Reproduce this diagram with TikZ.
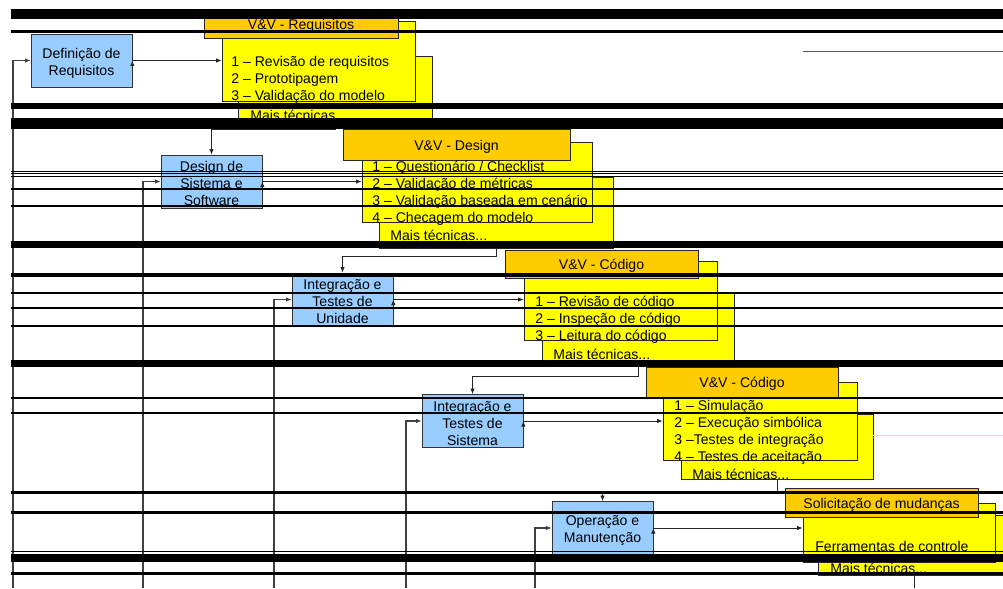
\documentclass[tikz,border=0pt]{standalone}
\usepackage{fontspec}
\setmainfont{Liberation Sans}
\usetikzlibrary{arrows.meta,positioning,calc}

\definecolor{azul}{HTML}{99CCFF}
\definecolor{laranja}{HTML}{FFCC00}
\definecolor{amarelo}{HTML}{FFFF00}
\definecolor{cinza}{HTML}{404040}

\newcommand{\esp}{\rule{0pt}{8.6pt}}

\tikzset{
  fase/.style={shape=rectangle,draw=black!80,fill=azul,inner sep=0pt,
    minimum width=2.02cm,minimum height=1.06cm,align=center},
  fundo/.style={shape=rectangle,draw=black!85,fill=amarelo,inner sep=0pt},
  frente/.style={shape=rectangle,draw=black!85,fill=amarelo,inner sep=0pt},
  cab/.style={shape=rectangle,draw=black!85,fill=laranja,inner sep=0pt,
    execute at begin node={\rule{0pt}{8.2pt}}},
  lista/.style={anchor=west,inner sep=0pt,align=left},
  seta/.style={draw=black!85,line width=0.55pt,-{Latex[length=1.1mm,width=0.9mm]}},
  volta/.style={draw=cinza,line width=0.6pt,-{Latex[length=1.1mm,width=0.9mm]}}
}

\begin{document}
\begin{tikzpicture}[x=0.02cm,y=-0.02cm,
  every node/.style={font=\fontsize{8}{9.68}\selectfont}]
  \useasboundingbox (0,0) rectangle (1003,588);

  % fases
  \node[fase] (req) at (81.5,60.5) {\esp Definição de\\Requisitos};
  \node[fase] (dsgn) at (211.5,181.5) {\esp Design de\\Sistema e\\Software};
  \node[fase] (unit) at (342.5,299.5) {\esp Integração e\\Testes de\\Unidade};
  \node[fase] (sys) at (472.5,421) {\esp Integração e\\Testes de\\Sistema};
  \node[fase] (oper) at (602.5,528) {\esp Operação e\\Manutenção};

  % V&V - Requisitos
  \node[fundo,minimum width=3.88cm,minimum height=1.42cm] (bk1) at (335,92) {};
  \node[frente,minimum width=3.86cm,minimum height=1.6cm] (fr1) at (318.5,61) {};
  \node[cab,minimum width=3.88cm,minimum height=0.56cm] (hd1) at (301,24) {V\&V - Requisitos};
  \node[lista] (ls1) at (231,80) {1 – Revisão de requisitos\\2 – Prototipagem\\3 – Validação do modelo};
  \node[lista] (mt1) at (250,115) {Mais técnicas...};

  % V&V - Design
  \node[fundo,minimum width=4.68cm,minimum height=1.42cm] (bk2) at (496,212.5) {};
  \node[frente,minimum width=4.6cm,minimum height=1.6cm] (fr2) at (477,182) {};
  \node[cab,minimum width=4.54cm,minimum height=0.62cm] (hd2) at (456.5,144.5) {V\&V - Design};
  \node[lista] (ls2) at (372,193) {1 – Questionário / Checklist\\2 – Validação de métricas\\3 – Validação baseada em cenário\\4 – Checagem do modelo};
  \node[lista] (mt2) at (390,235) {Mais técnicas...};

  % V&V - Codigo
  \node[fundo,minimum width=3.84cm,minimum height=1.38cm] (bk3) at (638,327.5) {};
  \node[frente,minimum width=3.86cm,minimum height=1.58cm] (fr3) at (620.5,300.5) {};
  \node[cab,minimum width=3.86cm,minimum height=0.56cm] (hd3) at (601.5,264) {V\&V - Código};
  \node[lista] (ls3) at (535,320) {1 – Revisão de código\\2 – Inspeção de código\\3 – Leitura do código};
  \node[lista] (mt3) at (553,354) {Mais técnicas...};

  % V&V - Codigo (sistema)
  \node[fundo,minimum width=3.84cm,minimum height=1.3cm] (bk4) at (777,446.5) {};
  \node[frente,minimum width=3.88cm,minimum height=1.56cm] (fr4) at (760,421) {};
  \node[cab,minimum width=3.84cm,minimum height=0.6cm] (hd4) at (742,382) {V\&V - Código};
  \node[lista] (ls4) at (674,432) {1 – Simulação\\2 – Execução simbólica\\3 –Testes de integração\\4 – Testes de aceitação};
  \node[lista] (mt4) at (692,474) {Mais técnicas...};

  % Solicitacao de mudancas
  \node[fundo,minimum width=3.84cm,minimum height=1.2cm] (bk5) at (914,545) {};
  \node[frente,minimum width=3.84cm,minimum height=1.18cm] (fr5) at (899,532.5) {};
  \node[cab,minimum width=3.86cm,minimum height=0.58cm] (hd5) at (881.5,502.5) {Solicitação de mudanças};
  \node[lista] (ls5) at (815,546) {Ferramentas de controle};
  \node[lista] (mt5) at (830,568) {Mais técnicas...};

  % fase -> tecnicas
  \path[seta] (req.east) edge (req.east -| fr1.west);
  \path[seta] (dsgn.east) edge (dsgn.east -| fr2.west);
  \path[seta] (unit.east) edge (unit.east -| fr3.west);
  \path[seta] (sys.east) edge (sys.east -| fr4.west);
  \path[seta] (oper.east) edge (oper.east -| fr5.west);

  % tecnicas -> proxima fase
  \draw[seta] (bk1.south) -- ++(0,2) -| (dsgn.north);
  \draw[seta] (bk2.south) -- ++(0,8) -| (unit.north);
  \draw[seta] (bk3.south) -- ++(0,14) -| (sys.north);
  \draw[seta] (bk4.south) -- ++(0,12) -| (oper.north);
  \coordinate (fim) at (914,588);
  \draw[draw=black!85,line width=0.55pt] (bk5.south) -- (fim);

  % retornos
  \coordinate (rt1) at (13,588);
  \coordinate (rt2) at (143,588);
  \coordinate (rt3) at (274,588);
  \coordinate (rt4) at (406,588);
  \coordinate (rt5) at (535,588);
  \draw[volta] (rt1) |- (req.west);
  \draw[volta] (rt2) |- (dsgn.west);
  \draw[volta] (rt3) |- (unit.west);
  \draw[volta] (rt4) |- (sys.west);
  \draw[volta] (rt5) |- (oper.west);

  % faixas horizontais
  \fill (11,9) rectangle (1003,19);
  \fill (11,30) rectangle (1003,33);
  \draw[black!65,line width=0.5pt] (803,51) -- (1003,51);
  \fill (11,103) rectangle (1003,109);
  \fill (11,118) rectangle (1003,129);
  \draw[line width=0.55pt] (11,171) -- (1003,171);
  \draw[line width=0.55pt] (11,173.5) -- (1003,173.5);
  \draw[line width=0.55pt] (11,176) -- (1003,176);
  \fill (11,187.5) rectangle (1003,189.5);
  \fill (11,205) rectangle (1003,207);
  \fill (11,241) rectangle (1003,248);
  \fill (11,273) rectangle (1003,277);
  \fill (11,291.5) rectangle (1003,293.5);
  \draw[line width=0.6pt] (11,308) -- (1003,308);
  \draw[line width=0.6pt] (11,326) -- (1003,326);
  \fill (11,360) rectangle (1003,367);
  \fill (11,396.5) rectangle (1003,398.5);
  \draw[line width=0.6pt] (11,413) -- (1003,413);
  \draw[amarelo,line width=0.5pt] (873,435) -- (1003,435);
  \fill (11,491) rectangle (1003,494);
  \fill (11,510.5) rectangle (1003,513.5);
  \fill (11,550.5) rectangle (1003,552);
  \fill (11,554) rectangle (1003,562);
  \fill (11,571.5) rectangle (1003,574.5);
\end{tikzpicture}
\end{document}
